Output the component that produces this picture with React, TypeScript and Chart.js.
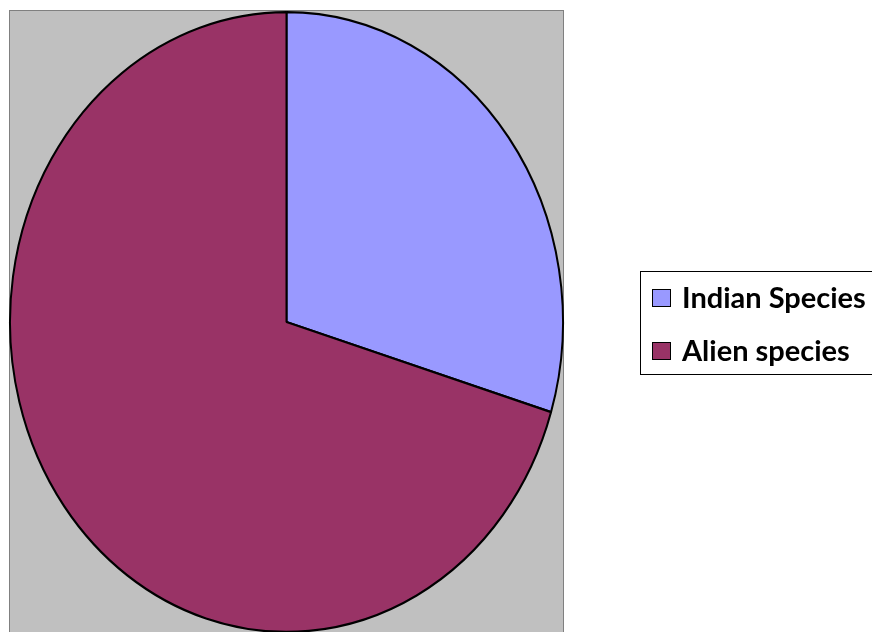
import React, { useEffect, useRef } from "react";
import { Chart, registerables } from "chart.js";

Chart.register(...registerables);

const categories = ["Indian Species", "Alien species"];
const values = [29.7, 70.3];
const colors = ["#9999FF", "#993366"];

const W = 872;
const H = 632;

export default function App() {
  const ref = useRef<HTMLCanvasElement | null>(null);

  useEffect(() => {
    const canvas = ref.current;
    if (!canvas) return;

    const plotBg = {
      id: "plotBg",
      beforeDraw(chart: any) {
        const ctx = chart.ctx;
        ctx.save();
        ctx.fillStyle = "#C0C0C0";
        ctx.fillRect(9, 10, 555, 640);
        ctx.strokeStyle = "#808080";
        ctx.lineWidth = 1;
        ctx.strokeRect(9.5, 10.5, 554, 640);
        ctx.restore();
      },
    };

    const stretch = {
      id: "stretch",
      beforeDatasetsDraw(chart: any) {
        const ctx = chart.ctx;
        const a = chart.chartArea;
        const cx = (a.left + a.right) / 2;
        const cy = (a.top + a.bottom) / 2;
        const r = Math.min(a.right - a.left, a.bottom - a.top) / 2;
        ctx.save();
        ctx.translate(cx, cy);
        ctx.scale(1, 311 / r);
        ctx.translate(-cx, -cy);
      },
      afterDatasetsDraw(chart: any) {
        chart.ctx.restore();
      },
    };

    const legendBox = {
      id: "legendBox",
      afterDraw(chart: any) {
        const ctx = chart.ctx;
        ctx.save();
        ctx.strokeStyle = "#000000";
        ctx.lineWidth = 1;
        ctx.strokeRect(640.5, 271.5, 240, 103);
        const labels = chart.data.labels as string[];
        const bg = chart.data.datasets[0].backgroundColor as string[];
        ctx.font = "bold 29px Lato";
        ctx.textBaseline = "alphabetic";
        ctx.textAlign = "left";
        labels.forEach((lab, i) => {
          const base = 308 + i * 53;
          ctx.fillStyle = bg[i];
          ctx.fillRect(652, base - 19, 19, 18);
          ctx.strokeStyle = "#000000";
          ctx.lineWidth = 1;
          ctx.strokeRect(652.5, base - 18.5, 18, 17);
          ctx.fillStyle = "#000000";
          ctx.fillText(lab, 682, base);
        });
        ctx.restore();
      },
    };

    const chart = new Chart(canvas, {
      type: "pie",
      data: {
        labels: categories,
        datasets: [
          {
            data: values,
            backgroundColor: colors,
            borderColor: "#000000",
            borderWidth: 2,
          },
        ],
      },
      options: {
        responsive: false,
        animation: false,
        layout: { padding: { left: 9, right: W - 564, top: 44, bottom: H - 600 } },
        plugins: {
          legend: { display: false },
          tooltip: { enabled: false },
        },
      },
      plugins: [plotBg, stretch, legendBox],
    });

    return () => chart.destroy();
  }, []);

  return (
    <div style={{ position: "fixed", left: 0, top: 0, width: W, height: H, background: "#fff" }}>
      <canvas ref={ref} width={W} height={H} style={{ width: W, height: H, display: "block" }} />
    </div>
  );
}
